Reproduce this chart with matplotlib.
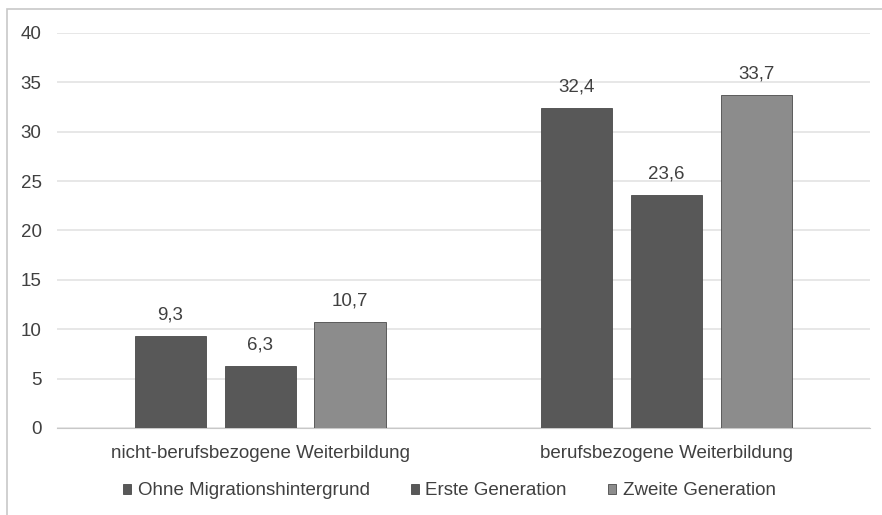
import numpy as np
import matplotlib.pyplot as plt
from matplotlib.patches import Rectangle

kategorien = ['nicht-berufsbezogene Weiterbildung', 'berufsbezogene Weiterbildung']
serien = ['Ohne Migrationshintergrund', 'Erste Generation', 'Zweite Generation']
ohne = [9.3, 32.4]
erste = [6.3, 23.6]
zweite = [10.7, 33.7]
farben = ['#585858', '#585858', '#8c8c8c']

plt.rcParams['font.family'] = ['Liberation Sans', 'DejaVu Sans']
gr = 13.5

fig = plt.figure(figsize=(8.82, 5.15), dpi=100)
ax = fig.add_axes([0.0646, 0.169, 0.9214, 0.767])

# Rahmen um die ganze Grafik
fig.patches.append(Rectangle((0.008, -0.01), 1.1, 0.993, transform=fig.transFigure,
                             fill=False, edgecolor='#c8c8c8', linewidth=1.2))

x = np.arange(len(kategorien))
breite = 0.175
abstand = 0.221
for i, (werte, name) in enumerate(zip([ohne, erste, zweite], serien)):
    pos = x + (i - 1) * abstand
    balken = ax.bar(pos, werte, breite, color=farben[i], edgecolor='#4a4a4a',
                    linewidth=0.6, label=name, zorder=3)
    for b, w in zip(balken, werte):
        ax.annotate(f'{w:.1f}'.replace('.', ','), (b.get_x() + b.get_width() / 2, w),
                    xytext=(0, 9), textcoords='offset points',
                    ha='center', va='bottom', fontsize=gr, color='#404040')

ax.set_ylim(0, 40)
ax.set_xlim(-0.5, 1.5)
ax.set_yticks(range(0, 41, 5))
ax.set_xticks(x)
ax.set_xticklabels(kategorien)
ax.grid(axis='y', color='#e3e3e3', linewidth=1.2, zorder=0)
for s in ['top', 'right', 'left']:
    ax.spines[s].set_visible(False)
ax.spines['bottom'].set_color('#c8c8c8')
ax.tick_params(axis='both', length=0, labelsize=gr, colors='#404040')
ax.tick_params(axis='y', pad=11)
ax.tick_params(axis='x', pad=12)

ax.legend(loc='upper center', bbox_to_anchor=(0.483, -0.095), ncol=3, frameon=False,
          fontsize=gr, handlelength=0.42, handleheight=0.42, handletextpad=0.35,
          columnspacing=2.2, labelcolor='#404040')

fig.savefig('out.png', dpi=100, facecolor='white')
